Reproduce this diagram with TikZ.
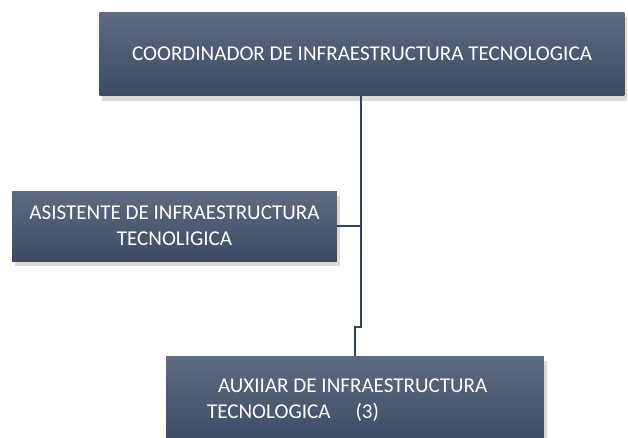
\documentclass[tikz,border=0pt]{standalone}
\usepackage{fontspec}
\setmainfont{Carlito}
\usepackage{tikz}
\usetikzlibrary{positioning,calc,shadows}
\definecolor{boxtop}{HTML}{5E6B80}
\definecolor{boxbottom}{HTML}{3C4A64}
\definecolor{linkcol}{HTML}{34425A}
\tikzset{
    cargo/.style={
        rectangle,
        top color=boxtop,
        bottom color=boxbottom,
        text=white,
        align=center,
        inner sep=2pt,
        font=\fontsize{12}{15}\selectfont,
        drop shadow={shadow xshift=1.5pt, shadow yshift=-3pt, opacity=0.3}
    },
    link/.style={
        draw=linkcol,
        line width=1.5pt
    }
}

\begin{document}
\begin{tikzpicture}[x=0.02cm, y=-0.02cm]
  \useasboundingbox (0,0) rectangle (628,437);

  % Boxes
  \node[cargo, minimum width=10.5cm, minimum height=1.68cm] (coord) at (362,54)
    {COORDINADOR DE INFRAESTRUCTURA TECNOLOGICA};
  \node[cargo, minimum width=6.5cm, minimum height=1.4cm] (asis) at (174.5,226)
    {ASISTENTE DE INFRAESTRUCTURA\\TECNOLIGICA};
  \node[cargo, align=flush left, text width=5.92cm, inner xsep=0.82cm,
        minimum width=7.56cm, minimum height=1.76cm] (aux) at (355,400)
    {\hspace*{0.22cm}AUXIIAR DE INFRAESTRUCTURA\\TECNOLOGICA\hspace{0.5cm}(3)};

  % Connectors
  \coordinate (trunk) at (361,96);
  \coordinate (knee) at (355,327);
  \draw[link] (coord.south -| trunk) |- (knee) -- (aux.north);
  \draw[link] (asis.east) -- (asis.east -| trunk);
\end{tikzpicture}
\end{document}
